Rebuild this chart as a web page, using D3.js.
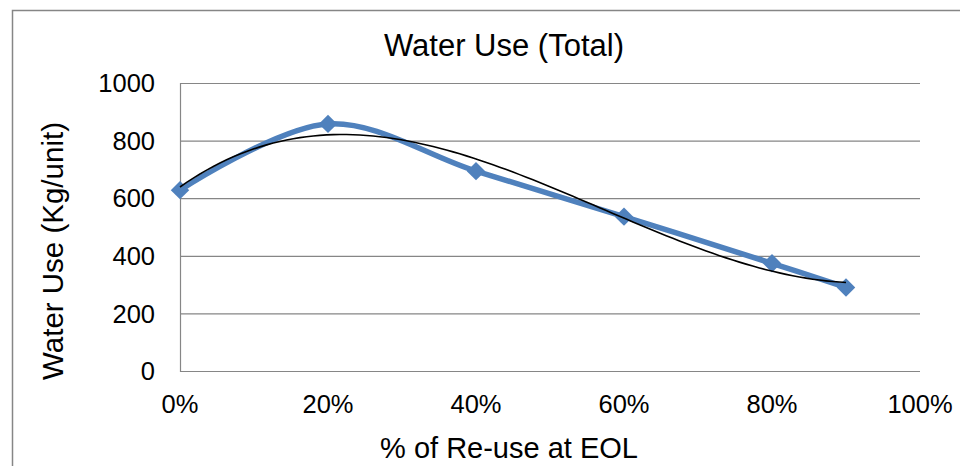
<!DOCTYPE html>
<html>
<head>
<meta charset="utf-8">
<script src="https://cdn.jsdelivr.net/npm/d3@7"></script>
<style>
  body { margin: 0; background: #fff; }
  text { font-family: "Liberation Sans", Arial, sans-serif; fill: #000; }
</style>
</head>
<body>
<svg id="chart"></svg>
<script>
/* Data */
const reusePercent = [0, 20, 40, 60, 80, 90];
const waterUse = [628, 858, 694, 536, 374, 290];
const yTickValues = [0, 200, 400, 600, 800, 1000];
const xTickValues = [0, 20, 40, 60, 80, 100];
const trendOrder = 3;

const data = reusePercent.map((x, i) => ({ x: x, y: waterUse[i] }));

/* Chart dimensions */
const W = 960, H = 466;
const plot = { left: 180, right: 920, top: 83, bottom: 371 };

const svg = d3.select("#chart")
    .attr("width", W)
    .attr("height", H);

/* Outer chart border (continues past the window) */
svg.append("rect")
    .attr("x", 12.5).attr("y", 10.5)
    .attr("width", W + 20).attr("height", H + 20)
    .attr("fill", "#fff")
    .attr("stroke", "#868686")
    .attr("stroke-width", 1.5);

/* Scales */
const x = d3.scaleLinear().domain([0, 100]).range([plot.left, plot.right]);
const y = d3.scaleLinear().domain([0, 1000]).range([plot.bottom, plot.top]);

/* Gridlines */
svg.append("g")
    .selectAll("line")
    .data(yTickValues)
    .join("line")
      .attr("x1", plot.left).attr("x2", plot.right)
      .attr("y1", d => y(d) + 0.5).attr("y2", d => y(d) + 0.5)
      .attr("stroke", "#868686")
      .attr("stroke-width", 1.2);

/* Y axis line */
svg.append("line")
    .attr("x1", plot.left + 0.5).attr("x2", plot.left + 0.5)
    .attr("y1", plot.top).attr("y2", plot.bottom + 1)
    .attr("stroke", "#868686")
    .attr("stroke-width", 1.2);

/* Y tick labels */
svg.append("g")
    .selectAll("text")
    .data(yTickValues)
    .join("text")
      .attr("x", 155)
      .attr("y", d => y(d))
      .attr("dy", "0.36em")
      .attr("text-anchor", "end")
      .style("font-size", "25.5px")
      .text(d => d);

/* X tick labels */
svg.append("g")
    .selectAll("text")
    .data(xTickValues)
    .join("text")
      .attr("x", d => x(d))
      .attr("y", 413)
      .attr("text-anchor", "middle")
      .style("font-size", "25.5px")
      .text(d => d + "%");

/* Polynomial trendline (least squares fit) */
function polyFit(xs, ys, order) {
    const n = order + 1;
    const A = Array.from({ length: n }, () => new Array(n + 1).fill(0));
    for (let r = 0; r < n; r++) {
        for (let c = 0; c < n; c++) {
            A[r][c] = d3.sum(xs, v => Math.pow(v, r + c));
        }
        A[r][n] = d3.sum(xs, (v, i) => ys[i] * Math.pow(v, r));
    }
    for (let i = 0; i < n; i++) {
        let p = i;
        for (let k = i + 1; k < n; k++) if (Math.abs(A[k][i]) > Math.abs(A[p][i])) p = k;
        [A[i], A[p]] = [A[p], A[i]];
        for (let k = i + 1; k < n; k++) {
            const f = A[k][i] / A[i][i];
            for (let c = i; c <= n; c++) A[k][c] -= f * A[i][c];
        }
    }
    const coef = new Array(n).fill(0);
    for (let i = n - 1; i >= 0; i--) {
        let s = A[i][n];
        for (let c = i + 1; c < n; c++) s -= A[i][c] * coef[c];
        coef[i] = s / A[i][i];
    }
    return coef;
}

const xs = reusePercent.map(v => v / 100);
const coef = polyFit(xs, waterUse, trendOrder);
const trendFn = t => coef.reduce((s, c, i) => s + c * Math.pow(t, i), 0);
const [xMin, xMax] = d3.extent(xs);
const trendData = d3.range(0, 101).map(i => {
    const t = xMin + (xMax - xMin) * i / 100;
    return { x: t * 100, y: trendFn(t) };
});

/* Smoothed data line */
const line = d3.line()
    .x(d => x(d.x))
    .y(d => y(d.y))
    .curve(d3.curveCatmullRom.alpha(0.5));

svg.append("path")
    .datum(data)
    .attr("fill", "none")
    .attr("stroke", "#4F81BD")
    .attr("stroke-width", 5.5)
    .attr("stroke-linejoin", "round")
    .attr("d", line);

/* Diamond markers */
svg.append("g")
    .selectAll("path")
    .data(data)
    .join("path")
      .attr("transform", d => `translate(${x(d.x)},${y(d.y)}) rotate(45)`)
      .attr("d", d3.symbol(d3.symbolSquare, 170)())
      .attr("fill", "#4F81BD");

/* Trendline */
svg.append("path")
    .datum(trendData)
    .attr("fill", "none")
    .attr("stroke", "#000")
    .attr("stroke-width", 1.6)
    .attr("d", d3.line().x(d => x(d.x)).y(d => y(d.y)));

/* Chart title */
svg.append("text")
    .attr("x", 504)
    .attr("y", 56)
    .attr("text-anchor", "middle")
    .style("font-size", "31px")
    .text("Water Use (Total)");

/* X axis title */
svg.append("text")
    .attr("x", 509)
    .attr("y", 458)
    .attr("text-anchor", "middle")
    .style("font-size", "29px")
    .text("% of Re-use at EOL");

/* Y axis title */
svg.append("text")
    .attr("transform", "translate(63,251) rotate(-90)")
    .attr("text-anchor", "middle")
    .style("font-size", "29.5px")
    .text("Water Use (Kg/unit)");
</script>
</body>
</html>
